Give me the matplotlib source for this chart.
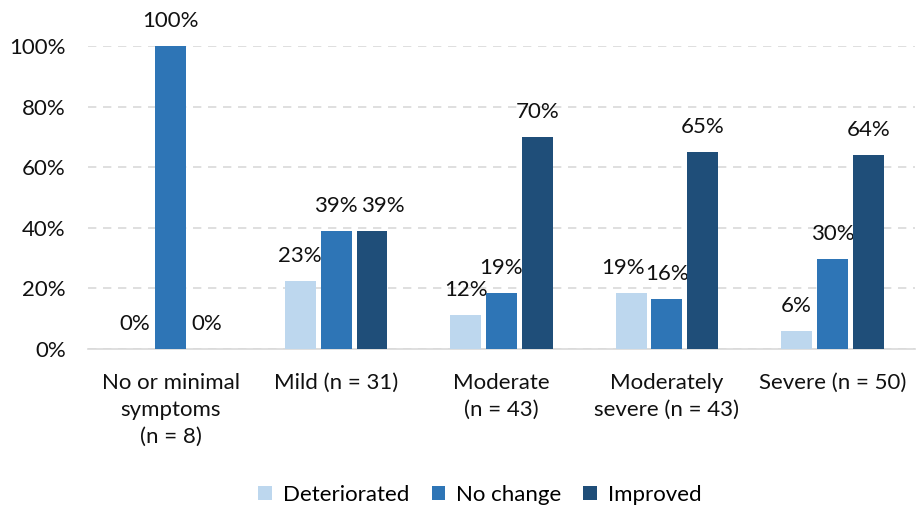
import matplotlib.pyplot as plt
import matplotlib.transforms as mtransforms
import numpy as np

plt.rcParams['font.family'] = ['Lato', 'DejaVu Sans']

categories = ['No or minimal\nsymptoms\n(n = 8)', 'Mild (n = 31)', 'Moderate\n(n = 43)',
              'Moderately\nsevere (n = 43)', 'Severe (n = 50)']
series = ['Deteriorated', 'No change', 'Improved']
deteriorated = [0, 23, 12, 19, 6]
no_change = [100, 39, 19, 16, 30]
improved = [0, 39, 70, 65, 64]
# bar heights (labels are rounded)
heights = [
    [0, 22.5, 11.2, 18.5, 6],
    [100, 39, 18.5, 16.5, 29.7],
    [0, 39, 70, 65, 64],
]
labels = [deteriorated, no_change, improved]
colors = ['#BDD7EE', '#2E75B6', '#1F4E79']

# horizontal nudges (points) for labels that would collide
nudges = {(0, 3): -6, (2, 1): 8}

fig = plt.figure(figsize=(9.16, 5.07), dpi=100)
ax = fig.add_axes([0.096, 0.3116, 0.903, 0.5975])

x = np.arange(len(categories))
width = 0.187
pitch = 0.217
for i, (h, lab, c) in enumerate(zip(heights, labels, colors)):
    pos = x + (i - 1) * pitch
    ax.bar(pos, h, width, color=c, label=series[i], zorder=3)
    for j, (px, hv, lv) in enumerate(zip(pos, h, lab)):
        dx = nudges.get((i, j), 0)
        tr = ax.transData + mtransforms.ScaledTranslation(dx / 72, 0, fig.dpi_scale_trans)
        ax.text(px, hv + 5, f'{lv}%', ha='center', va='bottom', fontsize=16,
                color='#111111', clip_on=False, transform=tr)

ax.set_xlim(-0.5, len(categories) - 0.5)
ax.set_ylim(0, 100)
ax.set_yticks(range(0, 101, 20))
ax.set_yticklabels([f'{v}%' for v in range(0, 101, 20)])
ax.yaxis.grid(True, color='#D9D9D9', linestyle=(0, (5, 4)), linewidth=1.2, zorder=0)
ax.set_xticks(x)
ax.set_xticklabels(categories, linespacing=1.45)
ax.tick_params(axis='both', length=0, labelsize=16, colors='#111111')
ax.tick_params(axis='x', pad=17)
ax.tick_params(axis='y', pad=16)
for s in ['top', 'right', 'left']:
    ax.spines[s].set_visible(False)
ax.spines['bottom'].set_color('#D9D9D9')
ax.spines['bottom'].set_linewidth(1.2)

fig.legend(loc='lower center', bbox_to_anchor=(0.524, -0.035), ncol=3, frameon=False,
           fontsize=16, handlelength=0.6, handleheight=0.6, columnspacing=1.0,
           handletextpad=0.5)

fig.savefig('out.png', dpi=100)
